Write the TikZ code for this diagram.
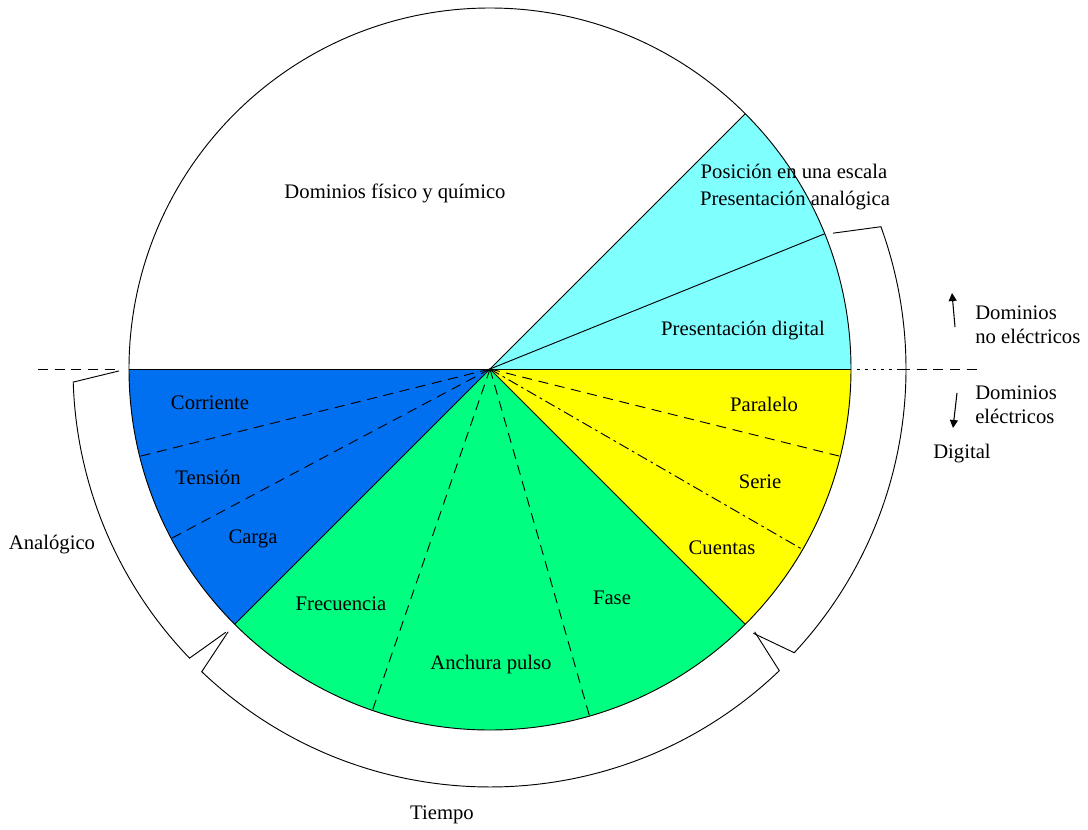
\documentclass[tikz,border=0pt]{standalone}
\usepackage{fontspec}
\setmainfont{Liberation Serif}
\usetikzlibrary{arrows.meta}
\definecolor{skyfill}{RGB}{128,255,255}
\definecolor{bluefill}{RGB}{0,112,240}
\definecolor{greenfill}{RGB}{0,255,128}
\definecolor{yellowfill}{RGB}{255,255,0}
\tikzset{
  thin line/.style={line width=0.7pt, black},
  split/.style={line width=0.7pt, dash pattern=on 7.5pt off 5pt},
  splitdot/.style={line width=0.7pt, dash pattern=on 8pt off 3pt on 2pt off 3pt},
  lbl/.style={inner sep=0pt, font=\fontsize{15.5}{18}\selectfont},
  bracket/.style={line width=0.7pt, line join=miter},
  domarrow/.style={line width=0.8pt, -{Triangle[width=6pt,length=6pt]}}
}
\begin{document}
\begin{tikzpicture}[x=0.75pt, y=0.75pt]
  \useasboundingbox (-490,-460) rectangle (598,369);
  \def\R{361}
  % coloured sectors
  \fill[skyfill]    (0,0) -- (0:\R)    arc[start angle=0,   end angle=45,   radius=\R] -- cycle;
  \fill[yellowfill] (0,0) -- (-45:\R)  arc[start angle=-45, end angle=0,    radius=\R] -- cycle;
  \fill[greenfill]  (0,0) -- (-135:\R) arc[start angle=-135,end angle=-45,  radius=\R] -- cycle;
  \fill[bluefill]   (0,0) -- (180:\R)  arc[start angle=180, end angle=225,  radius=\R] -- cycle;
  % outline and solid radii
  \draw[thin line] (0,0) circle[radius=\R];
  \draw[thin line] (180:\R) -- (0:\R);
  \draw[thin line] (0,0) -- (45:\R);
  \draw[thin line] (0,0) -- (22:\R);
  \draw[thin line] (0,0) -- (-45:\R);
  \draw[thin line] (0,0) -- (-135:\R);
  % dashed subdivisions
  \draw[split] (0,0) -- (194:\R);
  \draw[split] (0,0) -- (208:\R);
  \draw[split] (0,0) -- (-109:\R);
  \draw[split] (0,0) -- (-74:\R);
  \draw[split] (0,0) -- (-14:\R);
  \draw[splitdot] (0,0) -- (-30:\R);
  % horizontal divider beyond the circle
  \draw[split] (-452,0) -- (-370,0);
  \draw[line width=0.7pt, dash pattern=on 2pt off 4pt] (367,0) -- (410,0);
  \draw[split] (410,0) -- (492,0);
  % brackets
  \draw[bracket] (21.6:369) -- (20:416) arc[start angle=20, end angle=-43, radius=416] -- (-45.1:373);
  \draw[bracket] (-44.8:373) -- (-46.2:418) arc[start angle=-46.2, end angle=-133.6, radius=418] -- (-134.9:371);
  \draw[bracket] (180.3:371) -- (181.8:417) arc[start angle=181.8, end angle=223.9, radius=417] -- (224.9:373);
  % sector labels
  \node[lbl] (fq)  at (-95,176)  {Dominios físico y químico};
  \node[lbl] (pe)  at (304,198)  {Posición en una escala};
  \node[lbl] (pa)  at (305,168)  {Presentación analógica};
  \node[lbl] (pd)  at (253,38)   {Presentación digital};
  \node[lbl] (co)  at (-280,-34) {Corriente};
  \node[lbl] (te)  at (-282,-108){Tensión};
  \node[lbl] (ca)  at (-237,-170){Carga};
  \node[lbl] (fr)  at (-149,-235){Frecuencia};
  \node[lbl] (ap)  at (1,-296)   {Anchura pulso};
  \node[lbl] (fa)  at (122,-229) {Fase};
  \node[lbl] (pl)  at (274,-35)  {Paralelo};
  \node[lbl] (se)  at (270,-113) {Serie};
  \node[lbl] (cu)  at (232,-179) {Cuentas};
  % bracket labels
  \node[lbl] (an)  at (-438,-176){Analógico};
  \node[lbl] (ti)  at (-48,-446) {Tiempo};
  \node[lbl] (di)  at (472,-85)  {Digital};
  \node[lbl, anchor=west, align=left] (ne) at (485,44)  {Dominios\\no eléctricos};
  \node[lbl, anchor=west, align=left] (el) at (485,-36) {Dominios\\eléctricos};
  % direction arrows
  \coordinate (upfrom) at (465,42);
  \coordinate (upto) at (462,76);
  \coordinate (dnfrom) at (467,-24);
  \coordinate (dnto) at (463,-59);
  \draw[domarrow] (upfrom) -- (upto);
  \draw[domarrow] (dnfrom) -- (dnto);
\end{tikzpicture}
\end{document}
